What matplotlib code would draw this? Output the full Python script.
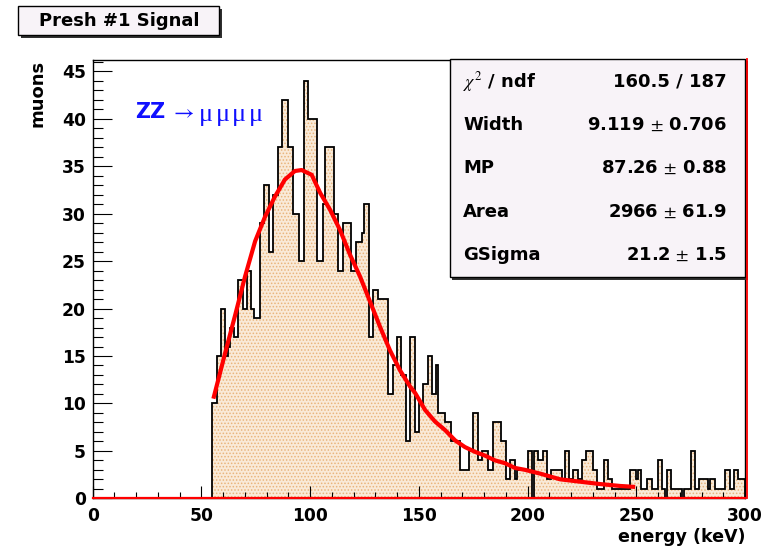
import numpy as np
import matplotlib
matplotlib.use('Agg')
import matplotlib.pyplot as plt
from matplotlib.patches import Rectangle
from matplotlib.lines import Line2D
from matplotlib.ticker import MultipleLocator

W, H = 773, 547
plt.rcParams['font.family'] = ['DejaVu Sans']
plt.rcParams['mathtext.fontset'] = 'stix'
plt.rcParams['hatch.color'] = '#e9b47c'
plt.rcParams['hatch.linewidth'] = 0.7

# ---- data: 1 keV bins, first non-empty bin at 55 keV ----
first_bin = 55
counts_rise = [10, 10, 15, 15, 20, 20, 15, 16, 18, 18,
               17, 17, 23, 23, 20, 20, 24, 24, 20, 19,
               19, 19, 29, 29, 33, 33, 26, 26, 32, 32,
               37, 37, 42, 42, 42, 37, 37, 30, 30, 30,
               25, 25, 44, 44, 40, 40, 40, 40, 25, 25,
               25, 31]
counts_fall = [37, 37, 37, 37, 30, 30, 24, 24, 29, 29,
               29, 29, 24, 24, 27, 27, 27, 28, 31, 31,
               17, 17, 22, 22, 21, 21, 21, 21, 21, 11,
               11, 14, 14, 17, 17, 13, 13, 6, 6, 17,
               17, 7, 7, 10, 10, 12, 12, 15, 15, 11,
               11, 14, 9, 9, 9, 8, 8]
counts_tail = [8, 6, 6, 6, 6, 3, 3, 3, 3, 5,
               5, 9, 9, 4, 4, 5, 5, 5, 3, 3,
               8, 8, 8, 8, 6, 6, 2, 2, 4, 4,
               2, 3, 3, 3, 3, 3, 5, 5, 0, 5,
               5, 4, 4, 5, 5, 2, 2, 3, 3, 3,
               3, 3, 2, 5, 5, 2, 2, 3, 3, 2,
               2, 4, 4, 5, 5, 5, 3, 3, 1, 1,
               1, 4, 4, 2, 2, 1, 1, 1, 1, 1,
               1, 1, 1, 3, 3, 3]
counts_far = [2, 3, 1, 1, 1, 2, 2, 1, 1, 1,
              4, 4, 1, 0, 3, 3, 1, 1, 1, 1,
              1, 0, 1, 1, 1, 5, 5, 1, 1, 2,
              2, 2, 2, 1, 2, 2, 1, 1, 1, 1,
              1, 3, 3, 1, 1, 3, 3, 2, 2, 2]

# fit curve
fit_x = [55.5, 60.9, 65.4, 70.1, 74.7, 79.3, 83.8, 88.4, 93.0, 96.1,
         100.7, 104.6, 109.2, 113.7, 118.3, 122.9, 127.6, 132.1, 136.7, 141.3,
         145.9, 148.3, 152.9, 157.4, 162.0, 166.7, 171.2, 175.8, 180.4, 185.0,
         189.6, 194.2, 198.8, 205.8, 215.0, 224.2, 233.4, 242.6, 249.5]
fit_y = [10.5, 15.3, 19.2, 23.4, 27.1, 29.7, 31.8, 33.6, 34.5, 34.6,
         34.1, 32.2, 30.4, 28.3, 25.7, 23.4, 20.7, 18.1, 15.6, 13.5,
         11.8, 11.1, 9.3, 8.1, 7.2, 6.1, 5.4, 4.9, 4.5, 4.0,
         3.7, 3.2, 3.0, 2.6, 2.0, 1.75, 1.5, 1.3, 1.2]

stats_labels = [r'$\chi^2$ / ndf', 'Width', 'MP', 'Area', 'GSigma']
stats_values = ['160.5 / 187', '9.119 $\\pm$ 0.706', '87.26 $\\pm$ 0.88',
                '2966 $\\pm$ 61.9', '21.2 $\\pm$ 1.5']

x_ticks = [0, 50, 100, 150, 200, 250, 300]
y_ticks = [0, 5, 10, 15, 20, 25, 30, 35, 40, 45]

nonzero = counts_rise + counts_fall + counts_tail + counts_far
counts = np.zeros(300)
counts[first_bin:first_bin + len(nonzero)] = nonzero
edges = np.arange(0, 301)


def fx(x):
    return x / W


def fy(y):
    return 1 - y / H


fig = plt.figure(figsize=(W / 100, H / 100), dpi=100)
fig.patch.set_facecolor('white')
ax = fig.add_axes([fx(92.7), fy(498.3), fx(745) - fx(92.7), fy(60) - fy(498.3)])
ax.set_xlim(0, 300)
ax.set_ylim(0, 46.2)

ax.stairs(counts, edges, fill=True, facecolor='#f9ead8', edgecolor='#e9b47c',
          hatch='.....', linewidth=0, zorder=1)
ax.stairs(counts, edges, color='black', linewidth=1.3, baseline=0, zorder=2)
ax.plot(fit_x, fit_y, color='#ff0000', linewidth=3.0, solid_capstyle='butt',
        solid_joinstyle='round', zorder=3)
ax.plot([0, 300], [0, 0], color='#ff0000', linewidth=1.6, zorder=4, clip_on=False)

ax.set_xticks(x_ticks)
ax.set_yticks(y_ticks)
ax.xaxis.set_minor_locator(MultipleLocator(10))
ax.yaxis.set_minor_locator(MultipleLocator(1))
ax.tick_params(axis='both', which='both', direction='in', top=False, right=False,
               width=0.8, colors='black')
ax.tick_params(axis='x', which='major', length=8.6, pad=6)
ax.tick_params(axis='x', which='minor', length=4.3)
ax.tick_params(axis='y', which='major', length=13.7, pad=5)
ax.tick_params(axis='y', which='minor', length=7.2)
for lab in ax.get_xticklabels() + ax.get_yticklabels():
    lab.set_fontsize(12.3)
    lab.set_fontweight('bold')
for s in ax.spines.values():
    s.set_linewidth(1.0)
    s.set_color('black')

fig.text(fx(745), fy(537), 'energy (keV)', ha='right', va='center',
         fontsize=12.6, fontweight='bold')
fig.text(fx(38), fy(60), 'muons', ha='center', va='top', rotation=90,
         fontsize=13, fontweight='bold')

# ZZ -> mumumumu
fig.text(fx(135), fy(112), 'ZZ', ha='left', va='center', fontsize=15,
         fontweight='bold', color='#1010ff')
fig.text(fx(170), fy(112), r'$\rightarrow$', ha='left', va='center', fontsize=16,
         color='#1010ff')
for i in range(4):
    fig.text(fx(199 + i * 16.5), fy(115), '\u03bc', ha='left', va='center',
             fontsize=19, family=['Liberation Serif', 'DejaVu Serif'],
             color='#1010ff')

# title box
fig.add_artist(Rectangle((fx(21), fy(38)), fx(222) - fx(21), fy(9) - fy(38),
                         transform=fig.transFigure, facecolor='#303030',
                         edgecolor='none', zorder=5))
fig.add_artist(Rectangle((fx(18), fy(35)), fx(219) - fx(18), fy(6) - fy(35),
                         transform=fig.transFigure, facecolor='#f8f3f8',
                         edgecolor='black', linewidth=1.0, zorder=6))
fig.text(fx(119), fy(21), 'Presh #1 Signal', ha='center', va='center',
         fontsize=13, fontweight='bold', zorder=7)

# stats box
fig.add_artist(Rectangle((fx(452), fy(280)), fx(748) - fx(452), fy(61) - fy(280),
                         transform=fig.transFigure, facecolor='#303030',
                         edgecolor='none', zorder=5))
fig.add_artist(Rectangle((fx(450), fy(277)), fx(745) - fx(450), fy(59) - fy(277),
                         transform=fig.transFigure, facecolor='#f8f3f8',
                         edgecolor='black', linewidth=1.0, zorder=6))
row_y = [81.7, 125, 168.3, 211.7, 255]
for lab, val, yy in zip(stats_labels, stats_values, row_y):
    fig.text(fx(463), fy(yy), lab, ha='left', va='center', fontsize=13,
             fontweight='bold', zorder=7)
    fig.text(fx(727), fy(yy), val, ha='right', va='center', fontsize=13,
             fontweight='bold', zorder=7)

fig.add_artist(Line2D([fx(747), fx(747)], [fy(59), fy(498.3)],
                      transform=fig.transFigure, color='#ff0000', linewidth=1.3,
                      zorder=10))

fig.savefig('out.png', dpi=100)
